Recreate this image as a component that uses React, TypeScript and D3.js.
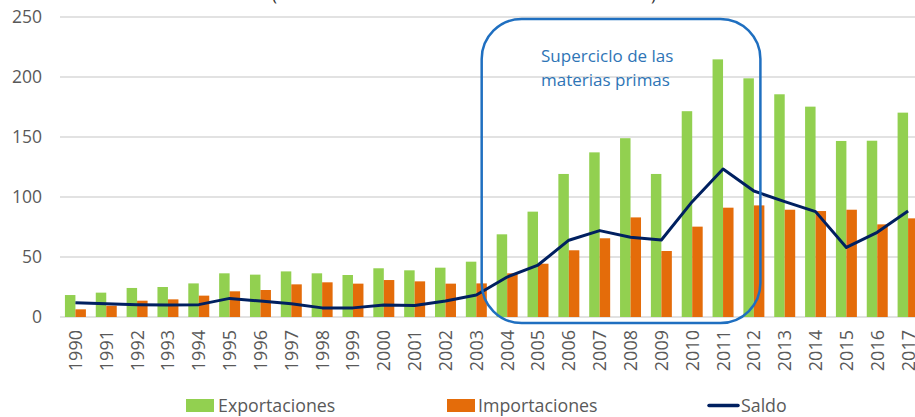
import { useEffect, useRef } from "react";
import * as d3 from "d3";

const years = [
  "1990", "1991", "1992", "1993", "1994", "1995", "1996", "1997", "1998", "1999",
  "2000", "2001", "2002", "2003", "2004", "2005", "2006", "2007", "2008", "2009",
  "2010", "2011", "2012", "2013", "2014", "2015", "2016", "2017",
];
const exportaciones = [
  18.3, 20.3, 24.2, 25, 28, 36.4, 35.3, 38, 36.4, 35,
  40.6, 38.9, 41.1, 46.1, 68.9, 87.8, 119.2, 137.2, 149, 119.2,
  171.5, 214.7, 198.9, 185.6, 175.3, 146.7, 146.9, 170.3,
];
const importaciones = [
  6.4, 9.4, 13.6, 14.7, 17.8, 21.4, 22.5, 27.2, 28.9, 27.8,
  30.8, 29.7, 27.8, 28, 36.4, 44.4, 55.6, 65.6, 83, 55,
  75.3, 91.1, 93, 89.4, 88.3, 89.4, 77.2, 82.2,
];
const saldo = [
  11.9, 11.1, 10.3, 9.9, 10.3, 15.5, 13.3, 11.1, 7.6, 7.6,
  10, 9.5, 13.3, 18.3, 33.3, 43.3, 64, 72, 66.4, 64.2,
  96.1, 123.3, 105, 96.1, 87.8, 58, 70.6, 88.3,
];
const yTicks = [0, 50, 100, 150, 200, 250];

const FONT = "'Open Sans', sans-serif";
const GREEN = "#92D050";
const ORANGE = "#E46C0A";
const NAVY = "#002060";
const BOX = "#1F6FC0";

export default function App() {
  const ref = useRef<SVGSVGElement>(null);

  useEffect(() => {
    const svg = d3.select(ref.current);
    svg.selectAll("*").remove();

    const W = 915;
    const left = 60;
    const right = 923.5;

    const x = d3.scaleBand<string>()
      .domain(years)
      .range([left, right])
      .paddingInner(0.32)
      .paddingOuter(0.16);
    const x1 = d3.scaleBand<string>()
      .domain(["exp", "imp"])
      .range([0, x.bandwidth()]);
    const y = d3.scaleLinear().domain([0, 250]).range([317, 17]);

    // cut-off title remnants
    svg.append("text").attr("x", 272).attr("y", 1).text("(")
      .style("font-family", FONT).style("font-size", "17px").attr("fill", "#333");
    svg.append("text").attr("x", 651).attr("y", 1).text(")")
      .style("font-family", FONT).style("font-size", "17px").attr("fill", "#333");

    // gridlines + y labels
    const yg = svg.append("g");
    yTicks.forEach(t => {
      yg.append("line")
        .attr("x1", left).attr("x2", W)
        .attr("y1", y(t)).attr("y2", y(t))
        .attr("stroke", "#d9d9d9").attr("stroke-width", 1.3);
      yg.append("text")
        .attr("x", 42).attr("y", y(t)).attr("dy", "0.36em")
        .attr("text-anchor", "end")
        .attr("fill", "#595959")
        .style("font-family", FONT).style("font-size", "17.5px")
        .text(t);
    });

    // bars
    const bars = svg.append("g");
    years.forEach((yr, i) => {
      bars.append("rect")
        .attr("x", x(yr)! + x1("exp")!).attr("width", x1.bandwidth())
        .attr("y", y(exportaciones[i])).attr("height", y(0) - y(exportaciones[i]))
        .attr("fill", GREEN);
      bars.append("rect")
        .attr("x", x(yr)! + x1("imp")!).attr("width", x1.bandwidth())
        .attr("y", y(importaciones[i])).attr("height", y(0) - y(importaciones[i]))
        .attr("fill", ORANGE);
    });

    // saldo line
    const line = d3.line<number>()
      .x((_, i) => x(years[i])! + x.bandwidth() / 2)
      .y(d => y(d));
    svg.append("path")
      .datum(saldo)
      .attr("d", line)
      .attr("fill", "none")
      .attr("stroke", NAVY)
      .attr("stroke-width", 3)
      .attr("stroke-linejoin", "round");

    // x labels
    years.forEach(yr => {
      const cx = x(yr)! + x.bandwidth() / 2;
      svg.append("text")
        .attr("transform", `translate(${cx},330) rotate(-90)`)
        .attr("text-anchor", "end")
        .attr("dy", "0.36em")
        .attr("fill", "#595959")
        .style("font-family", FONT).style("font-size", "18px")
        .text(yr);
    });

    // annotation box
    const bx0 = x("2004")! - 15;
    const bx1 = x("2012")! + 17;
    svg.append("rect")
      .attr("x", bx0).attr("y", 19)
      .attr("width", bx1 - bx0).attr("height", 304)
      .attr("rx", 40).attr("ry", 40)
      .attr("fill", "none")
      .attr("stroke", BOX)
      .attr("stroke-width", 2.5);
    const note = svg.append("text")
      .attr("fill", "#2E75B6")
      .style("font-family", FONT).style("font-size", "17px");
    note.append("tspan").attr("x", 541).attr("y", 61.5).text("Superciclo de las");
    note.append("tspan").attr("x", 541).attr("y", 86).text("materias primas");

    // legend
    const lg = svg.append("g").style("font-family", FONT).style("font-size", "17.8px");
    lg.append("rect").attr("x", 186).attr("y", 399).attr("width", 28).attr("height", 13).attr("fill", GREEN);
    lg.append("text").attr("x", 218).attr("y", 411.5).attr("fill", "#595959").text("Exportaciones");
    lg.append("rect").attr("x", 447).attr("y", 399).attr("width", 28).attr("height", 13).attr("fill", ORANGE);
    lg.append("text").attr("x", 478).attr("y", 411.5).attr("fill", "#595959").text("Importaciones");
    lg.append("line").attr("x1", 709).attr("x2", 738).attr("y1", 405.5).attr("y2", 405.5)
      .attr("stroke", NAVY).attr("stroke-width", 3.5).attr("stroke-linecap", "round");
    lg.append("text").attr("x", 741).attr("y", 411.5).attr("fill", "#595959").text("Saldo");
  }, []);

  return (
    <div style={{ position: "absolute", left: 0, top: 0, width: 915, height: 417, background: "#fff", overflow: "hidden" }}>
      <svg ref={ref} width={915} height={417} style={{ display: "block" }} />
    </div>
  );
}
